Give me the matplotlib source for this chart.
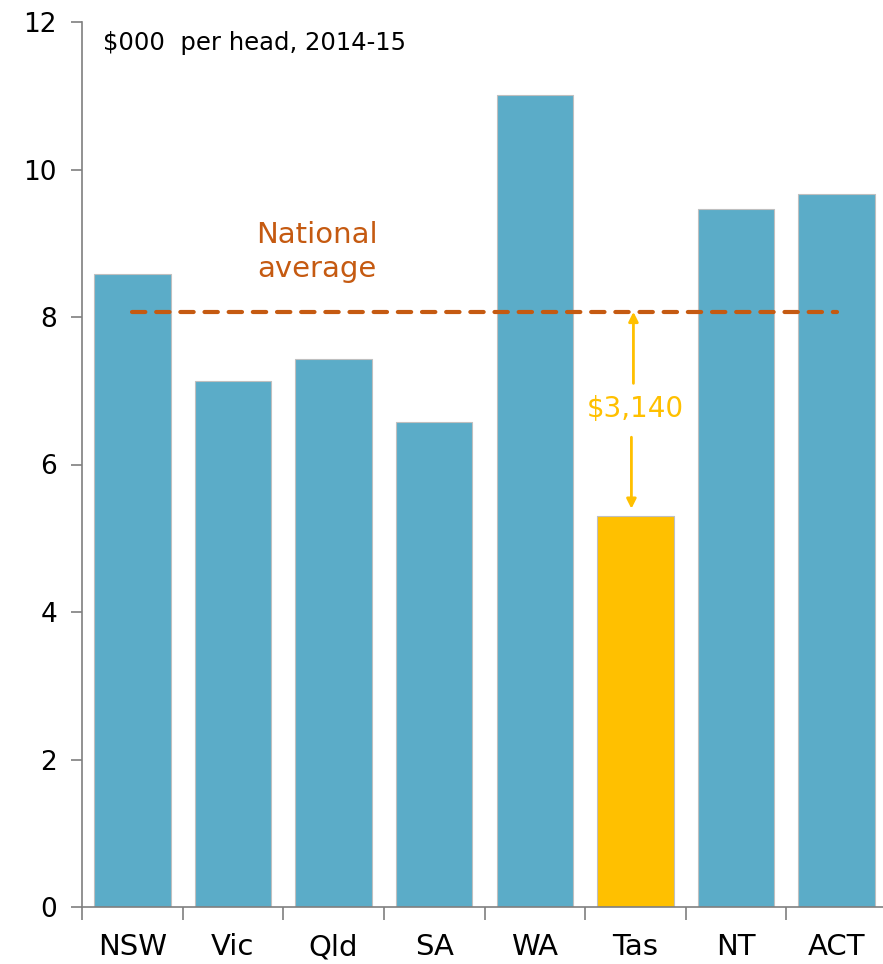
import numpy as np
import matplotlib
matplotlib.use("Agg")
from matplotlib import pyplot as plt

# Spending per head by state, 2014-15 ($000)
states = ['NSW', 'Vic', 'Qld', 'SA', 'WA', 'Tas', 'NT', 'ACT']
per_head = [8.58, 7.13, 7.43, 6.58, 11.01, 5.30, 9.46, 9.67]
national_avg = 8.07
gap_label = '$3,140'
highlight = 'Tas'

plt.rcParams['font.family'] = ['DejaVu Sans']

blue = '#5BACC8'
gold = '#FFC000'
rust = '#C55A11'
axis_grey = '#7F7F7F'

fig = plt.figure(figsize=(8.83, 9.64), dpi=100)
ax = fig.add_axes([82 / 883, 57 / 964, 805 / 883, 885 / 964])

x = np.arange(len(states))
colors = [gold if s == highlight else blue for s in states]
ax.bar(x, per_head, width=0.76, color=colors, edgecolor='#BFBFBF', linewidth=0.8, zorder=2)

# national average as a dashed line across the bars
ax.plot([0, 7], [national_avg, national_avg], color=rust, lw=3, ls=(0, (3.2, 2.6)),
        dash_capstyle='round', zorder=3)
ax.text(1.83, 8.88, 'National\naverage', color=rust, fontsize=21, ha='center', va='center',
        linespacing=1.3)

# gap between Tasmania and the national average
ti = states.index(highlight)
tv = per_head[ti]
mid = 6.75
ax.annotate('', xy=(ti - 0.02, national_avg), xytext=(ti - 0.02, mid + 0.35),
            arrowprops=dict(arrowstyle='-|>', color=gold, lw=2, mutation_scale=14,
                            shrinkA=0, shrinkB=0))
ax.annotate('', xy=(ti - 0.04, tv + 0.1), xytext=(ti - 0.04, mid - 0.38),
            arrowprops=dict(arrowstyle='-|>', color=gold, lw=2, mutation_scale=14,
                            shrinkA=0, shrinkB=0))
ax.text(ti + 0.0, mid, gap_label, color=gold, fontsize=20, ha='center', va='center')

ax.text(0.026, 0.99, '$000  per head, 2014-15', transform=ax.transAxes, fontsize=17.5,
        ha='left', va='top')

ax.set_xlim(-0.5, 7.5)
ax.set_ylim(0, 12)
ax.set_yticks(range(0, 13, 2))
ax.set_xticks(x)
ax.set_xticklabels(states)
ax.set_xticks(np.arange(-0.5, 7.6, 1), minor=True)
ax.tick_params(axis='x', which='major', length=0, labelsize=21, pad=19)
ax.tick_params(axis='x', which='minor', length=9, width=1.2, color=axis_grey)
ax.tick_params(axis='y', length=8, width=1.2, color=axis_grey, labelsize=19, pad=10)

for side in ['top', 'right']:
    ax.spines[side].set_visible(False)
for side in ['left', 'bottom']:
    ax.spines[side].set_color(axis_grey)
    ax.spines[side].set_linewidth(1.2)

fig.savefig('out.png', dpi=100)
